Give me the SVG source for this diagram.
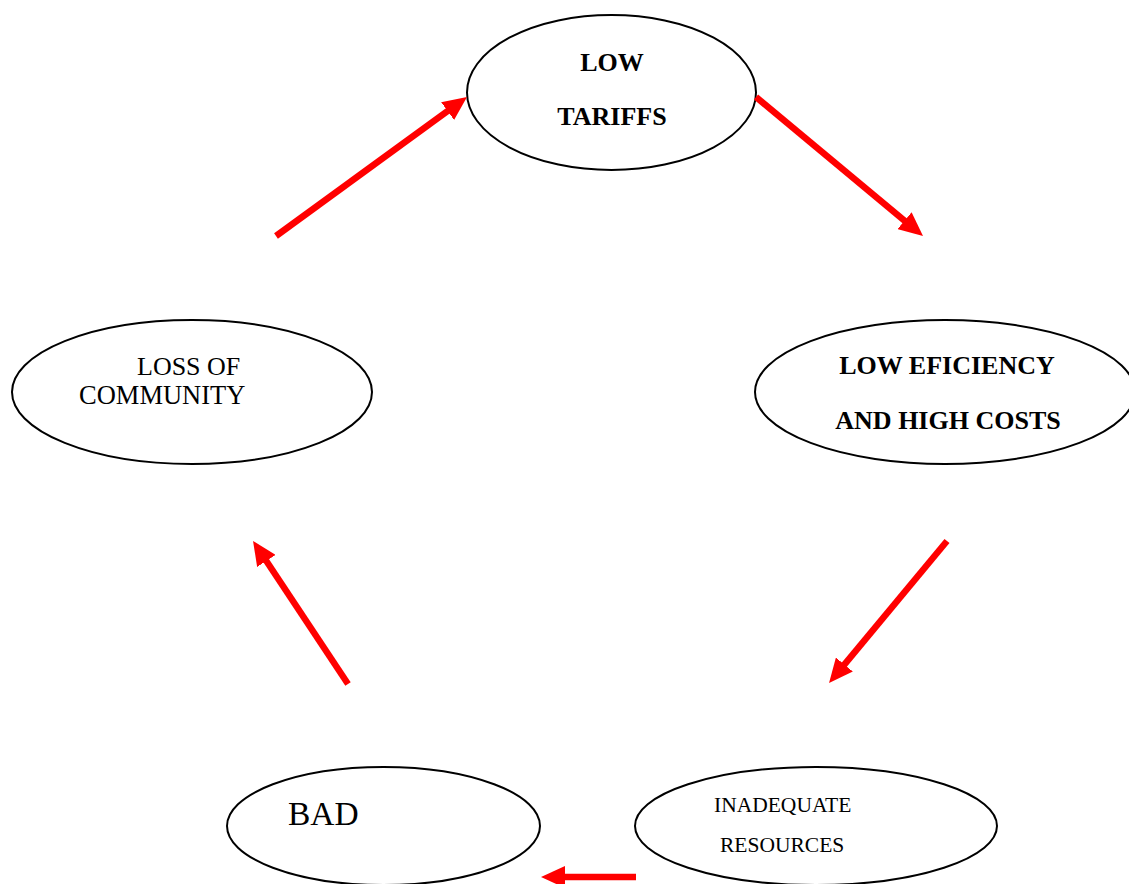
<svg xmlns="http://www.w3.org/2000/svg" width="1129" height="884" viewBox="0 0 1129 884">
<style>
.node{fill:#fff;stroke:#000;stroke-width:2}
.b{font-family:"Liberation Serif",serif;font-weight:bold;font-size:26px;fill:#000;text-anchor:middle}
.r{font-family:"Liberation Serif",serif;font-size:26px;fill:#000}
.s{font-family:"Liberation Serif",serif;font-size:21.5px;fill:#000}
.arr{stroke:#ff0000;stroke-width:6.5;fill:none;marker-end:url(#ah)}
</style>
<defs>
<marker id="ah" viewBox="0 0 24 22" refX="2" refY="11" markerWidth="24" markerHeight="22" markerUnits="userSpaceOnUse" orient="auto">
<path d="M0,0 L24,11 L0,22 z" fill="#ff0000"/>
</marker>
</defs>
<rect width="1129" height="884" fill="#fff"/>
<g id="n1">
<ellipse class="node" cx="611.5" cy="92.5" rx="144.5" ry="77.5"/>
<text class="b" x="612" y="71">LOW</text>
<text class="b" x="612" y="125">TARIFFS</text>
</g>
<g id="n2">
<ellipse class="node" cx="945" cy="392" rx="190" ry="72"/>
<text class="b" x="947" y="374">LOW EFICIENCY</text>
<text class="b" x="948" y="429">AND HIGH COSTS</text>
</g>
<g id="n3">
<ellipse class="node" cx="816" cy="826" rx="181" ry="59"/>
<text class="s" x="714" y="812">INADEQUATE</text>
<text class="s" x="720" y="852">RESOURCES</text>
</g>
<g id="n4">
<ellipse class="node" cx="383.5" cy="826" rx="156.5" ry="59"/>
<text class="r" x="288" y="825" style="font-size:33.5px">BAD</text>
</g>
<g id="n5">
<ellipse class="node" cx="192" cy="392" rx="180" ry="72"/>
<text class="r" x="137" y="375">LOSS OF</text>
<text class="r" x="79" y="404" style="font-size:26.5px">COMMUNITY</text>
</g>
<g id="connectors">
<line class="arr" x1="276" y1="236" x2="449.2" y2="109.9"/>
<line class="arr" x1="756" y1="97" x2="906.1" y2="221.9"/>
<line class="arr" x1="947" y1="541" x2="843.1" y2="666.1"/>
<line class="arr" x1="636" y1="877" x2="563" y2="877"/>
<line class="arr" x1="348" y1="684" x2="265.2" y2="559.3"/>
</g>
</svg>
